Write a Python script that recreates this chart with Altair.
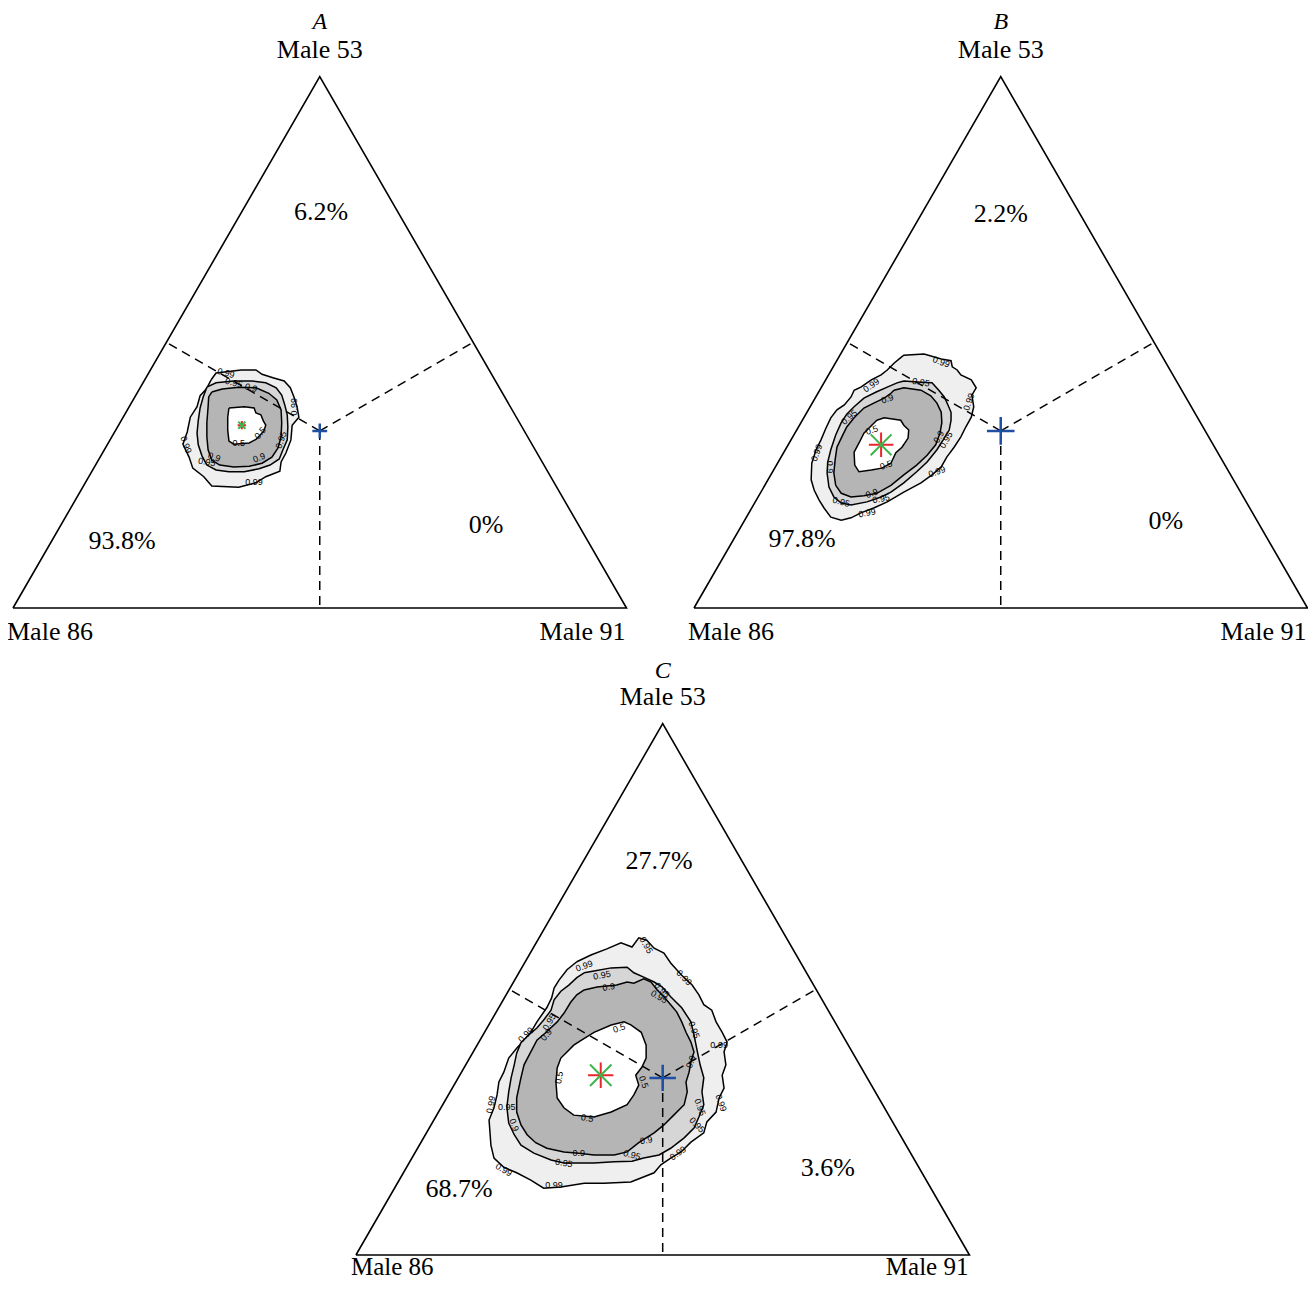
import altair as alt
import pandas as pd

# ------------------------------------------------------------------
# DATA  (triangle coordinates: side = 100, Male 86 at (0,0),
#        Male 91 at (100,0), Male 53 at (50, 86.6))
# ------------------------------------------------------------------
PANELS = ["A", "B", "C"]
VERTEX_NAMES = ["Male 86", "Male 91", "Male 53"]

PCT_A = ["93.8%", "0%", "6.2%"]
PCT_B = ["97.8%", "0%", "2.2%"]
PCT_C = ["68.7%", "3.6%", "27.7%"]

STAR_A = (37.3, 29.8)
STAR_B = (30.5, 26.6)
STAR_C = (39.9, 29.3)

LEVELS = [0.99, 0.95, 0.9, 0.5]

A_99 = [(32.3, 37.2), (33.1, 38.3), (37.2, 38.8), (39.6, 38.8), (40.6, 38.1), (42.5, 37.5),
        (44.2, 37.0), (45.2, 35.9), (45.8, 34.4), (46.3, 32.8), (46.6, 31.1), (45.5, 29.8),
        (45.3, 27.4), (44.5, 25.3), (43.7, 23.8), (43.5, 22.3), (41.2, 21.4), (39.6, 20.4),
        (36.8, 19.7), (32.4, 19.9), (31.1, 21.4), (29.3, 22.8), (28.7, 24.6), (27.7, 26.7),
        (28.4, 28.7), (28.9, 31.1), (30.0, 32.8), (30.5, 34.6), (31.5, 35.7)]
A_95 = [(31.6, 36.0), (33.1, 36.7), (36.0, 37.0), (39.0, 37.0), (41.2, 36.7), (42.9, 35.9),
        (43.8, 34.7), (44.3, 33.1), (44.7, 31.5), (44.8, 29.5), (44.7, 27.4), (44.0, 25.8),
        (43.4, 24.3), (41.9, 23.3), (40.1, 22.7), (37.7, 22.2), (35.2, 22.2), (33.1, 22.5),
        (31.6, 23.3), (30.8, 24.8), (30.2, 26.6), (30.0, 28.5), (30.2, 30.6), (30.5, 32.6),
        (31.0, 34.4)]
A_90 = [(32.4, 35.2), (34.1, 35.7), (36.8, 36.0), (39.6, 35.9), (41.7, 35.0), (43.0, 33.9),
        (43.7, 32.3), (43.8, 30.2), (43.7, 27.9), (43.2, 26.1), (42.2, 24.6), (40.6, 23.6),
        (38.5, 23.1), (36.0, 23.0), (33.7, 23.3), (32.4, 24.1), (31.8, 25.8), (31.6, 27.9),
        (31.6, 30.2), (31.8, 32.8), (31.9, 34.4)]
A_50 = [(35.2, 32.6), (37.7, 32.8), (39.3, 32.6), (39.6, 31.8), (40.4, 31.5), (40.8, 30.5),
        (41.2, 29.8), (40.9, 28.9), (40.3, 28.2), (39.6, 27.5), (38.5, 26.9), (36.0, 26.7),
        (35.2, 27.2), (35.0, 29.0), (35.0, 31.1)]

B_99 = [(33.7, 40.8), (34.2, 41.2), (37.5, 41.4), (40.3, 40.6), (41.9, 40.3), (42.1, 39.3),
        (42.9, 38.8), (43.5, 38.0), (45.2, 37.2), (46.0, 35.9), (45.3, 34.7), (45.6, 32.8),
        (45.2, 31.1), (44.3, 29.5), (43.5, 27.9), (42.4, 26.2), (41.2, 24.6), (40.3, 23.0),
        (38.8, 21.7), (37.0, 20.4), (34.2, 18.9), (31.5, 17.3), (29.3, 16.3), (27.2, 15.5),
        (25.6, 14.7), (24.0, 14.3), (22.3, 14.8), (21.2, 16.3), (20.4, 17.6), (19.6, 19.2),
        (19.1, 20.9), (19.2, 23.6), (19.9, 25.8), (20.7, 27.4), (21.5, 29.3), (22.3, 31.0),
        (23.3, 32.3), (24.5, 33.1), (25.6, 34.4), (26.1, 35.5), (27.2, 36.0), (28.9, 37.2),
        (30.5, 38.0), (31.5, 38.8), (32.6, 39.9)]
B_95 = [(34.2, 37.0), (37.0, 36.8), (38.8, 36.7), (39.9, 35.5), (40.8, 34.4), (41.4, 33.1),
        (41.9, 31.9), (41.9, 30.6), (41.6, 29.0), (40.8, 27.7), (39.6, 25.8), (38.0, 23.8),
        (36.3, 22.2), (34.2, 20.4), (32.1, 18.9), (30.5, 18.1), (28.2, 17.3), (25.6, 16.8),
        (24.0, 17.1), (22.8, 18.1), (22.0, 19.7), (21.7, 22.0), (21.8, 23.8), (22.3, 25.8),
        (23.1, 28.2), (24.0, 30.2), (24.9, 31.6), (26.1, 32.8), (27.7, 34.2), (29.7, 35.2),
        (31.5, 36.0), (33.1, 36.7)]
B_90 = [(32.6, 35.5), (34.2, 35.9), (37.0, 35.5), (38.6, 34.6), (39.6, 33.4), (40.3, 31.9),
        (40.4, 30.2), (40.1, 28.5), (39.4, 26.6), (38.0, 24.9), (36.3, 23.3), (34.2, 21.7),
        (32.1, 20.0), (29.8, 18.7), (27.7, 18.3), (25.6, 18.1), (24.0, 18.7), (23.1, 20.0),
        (22.8, 22.0), (23.0, 24.1), (23.3, 26.2), (24.1, 27.9), (24.9, 29.5), (26.1, 31.0),
        (27.7, 32.6), (29.3, 33.4), (31.0, 34.2), (32.1, 35.0)]
B_50 = [(29.8, 30.6), (31.0, 31.0), (33.7, 30.6), (34.2, 29.8), (35.0, 29.0), (34.9, 27.7),
        (33.9, 26.2), (32.9, 25.3), (32.1, 23.6), (30.6, 22.8), (28.9, 22.5), (26.9, 22.2),
        (26.2, 23.3), (26.1, 25.4), (26.9, 26.9), (27.7, 28.5), (28.9, 29.7)]

C_99 = [(36.0, 47.8), (38.3, 48.9), (40.9, 49.9), (43.2, 50.9), (45.0, 50.2), (46.1, 51.7),
        (47.4, 51.3), (48.6, 50.0), (50.2, 49.2), (51.3, 47.6), (53.1, 45.6), (54.8, 44.0),
        (55.9, 42.4), (56.7, 40.8), (58.0, 39.9), (58.7, 38.0), (59.7, 36.3), (60.5, 34.7),
        (60.0, 33.1), (60.3, 31.0), (59.7, 29.3), (60.0, 27.2), (59.2, 25.6), (58.7, 23.3),
        (57.2, 21.7), (56.7, 19.9), (54.6, 18.4), (53.0, 16.8), (51.3, 15.8), (49.7, 14.7),
        (48.6, 13.4), (44.8, 11.9), (40.4, 11.7), (37.2, 11.7), (33.4, 11.1), (30.6, 10.9),
        (28.5, 12.2), (26.2, 13.4), (24.1, 14.3), (22.5, 15.8), (22.0, 17.9), (21.7, 22.0),
        (22.5, 24.0), (23.0, 26.1), (23.3, 28.2), (24.1, 29.8), (24.9, 32.1), (26.2, 33.7),
        (27.4, 35.0), (28.5, 36.3), (29.5, 38.0), (31.1, 40.3), (31.9, 41.9), (32.3, 43.5),
        (33.1, 44.8), (34.4, 46.5)]
C_95 = [(37.2, 46.0), (38.8, 46.3), (41.6, 46.8), (44.2, 46.9), (45.3, 46.0), (46.9, 45.3),
        (48.6, 44.5), (49.9, 43.7), (51.3, 42.1), (53.1, 40.3), (54.6, 38.0), (55.1, 35.9),
        (55.6, 33.4), (56.1, 31.0), (56.7, 28.9), (56.4, 26.6), (56.7, 24.5), (55.9, 22.5),
        (55.1, 20.7), (53.5, 19.1), (51.3, 17.4), (49.4, 16.3), (46.9, 15.8), (45.0, 15.3),
        (42.1, 15.2), (38.8, 15.0), (33.9, 15.0), (31.8, 15.5), (29.0, 16.6), (26.9, 17.9),
        (25.8, 19.6), (24.9, 21.5), (24.6, 24.1), (24.9, 26.6), (25.3, 28.9), (25.8, 31.0),
        (26.2, 32.9), (26.9, 34.6), (28.2, 35.9), (29.5, 37.0), (30.6, 38.3), (31.8, 39.9),
        (32.3, 41.6), (33.4, 43.0), (34.7, 44.0), (36.0, 45.2)]
C_90 = [(37.2, 43.2), (39.3, 43.7), (42.5, 44.0), (44.2, 44.5), (45.3, 44.3), (46.9, 45.0),
        (48.1, 44.5), (49.1, 43.2), (50.2, 42.1), (51.3, 40.8), (52.3, 39.6), (53.1, 38.0),
        (53.8, 36.3), (54.6, 34.7), (55.1, 33.1), (54.6, 31.5), (54.3, 29.8), (53.8, 28.2),
        (54.0, 26.6), (53.5, 24.5), (51.8, 22.8), (50.2, 21.2), (48.6, 19.9), (46.1, 18.3),
        (44.2, 16.8), (42.1, 16.3), (38.8, 16.3), (36.3, 16.6), (33.9, 16.8), (31.1, 17.4),
        (29.3, 18.3), (27.9, 19.6), (26.9, 21.2), (26.2, 23.3), (26.2, 25.6), (26.9, 28.9),
        (27.4, 31.0), (28.5, 33.1), (29.5, 35.0), (31.0, 36.3), (32.8, 38.0), (33.9, 39.4),
        (35.0, 41.2), (36.0, 42.4)]
C_50 = [(36.7, 35.0), (38.8, 36.3), (41.6, 37.5), (43.7, 38.0), (44.8, 37.5), (46.5, 36.3),
        (47.3, 34.2), (47.3, 32.1), (46.6, 30.6), (45.6, 29.3), (46.1, 27.7), (45.3, 26.1),
        (44.2, 24.5), (41.6, 23.3), (38.8, 22.5), (35.5, 22.8), (33.9, 24.0), (32.8, 25.6),
        (32.6, 28.2), (32.8, 30.5), (33.4, 32.1), (34.4, 33.1), (35.5, 34.2)]

# contour labels: (text, x, y, angle)
LAB_A = [("0.99", 34.7, 38.3, 15), ("0.95", 36.0, 36.7, 15), ("0.9", 38.8, 35.9, 15),
         ("0.99", 45.8, 32.8, 270), ("0.5", 40.3, 28.5, -50), ("0.5", 36.8, 26.9, 0),
         ("0.95", 43.7, 27.4, -70), ("0.9", 40.1, 24.5, -20), ("0.9", 32.8, 24.6, 20),
         ("0.95", 31.6, 23.8, 10), ("0.99", 39.3, 20.5, 0), ("0.99", 28.2, 26.6, 70)]
LAB_B = [("0.99", 40.3, 40.1, 20), ("0.99", 44.8, 33.6, -70), ("0.99", 28.9, 36.3, -35),
         ("0.95", 37.0, 36.8, 10), ("0.9", 31.5, 34.1, -20), ("0.95", 25.3, 31.1, -40),
         ("0.5", 29.0, 29.0, -20), ("0.5", 31.3, 23.3, -20), ("0.9", 39.9, 27.9, -60),
         ("0.95", 41.1, 27.4, -60), ("0.99", 39.6, 22.2, -20), ("0.9", 29.0, 18.7, -20),
         ("0.95", 30.5, 17.8, -10), ("0.95", 24.0, 17.3, 15), ("0.99", 28.2, 15.5, -10),
         ("0.99", 20.0, 25.3, -70), ("0.9", 22.2, 23.0, 90)]
LAB_C = [("0.99", 37.2, 47.1, -20), ("0.95", 40.1, 45.6, -10), ("0.9", 41.2, 43.7, -10),
         ("0.95", 31.5, 38.0, -60), ("0.9", 31.0, 35.9, -50), ("0.99", 27.7, 35.9, -45),
         ("0.5", 42.9, 37.0, -20), ("0.5", 33.1, 28.9, -80), ("0.5", 37.7, 22.3, 10),
         ("0.5", 46.9, 28.2, 70), ("0.99", 22.0, 24.5, -80), ("0.95", 24.6, 24.1, 0),
         ("0.9", 25.8, 21.2, 70), ("0.99", 24.1, 13.9, 30), ("0.99", 32.3, 11.4, 0),
         ("0.95", 33.9, 15.0, 10), ("0.9", 36.3, 16.6, 0), ("0.95", 45.0, 16.3, 15),
         ("0.9", 47.3, 18.7, -10), ("0.99", 52.5, 16.6, -35), ("0.99", 59.5, 24.8, 70),
         ("0.95", 56.1, 24.1, 70), ("0.95", 55.6, 21.2, 45), ("0.9", 54.6, 31.5, -70),
         ("0.95", 55.1, 36.7, 70), ("0.99", 59.2, 34.2, 0), ("0.95", 49.9, 43.2, 45),
         ("0.95", 49.4, 42.1, 30), ("0.99", 53.5, 45.2, 45), ("0.95", 47.3, 50.5, 60)]

# ------------------------------------------------------------------
# LAYOUT / STYLE
# ------------------------------------------------------------------
W, H = 1300, 1274
PX = 6.135                      # pixels per triangle unit
X0, Y1 = -0.815, 97.80          # data value at left / top edge of the plot area
XDOM = [X0, X0 + W / PX]
YDOM = [Y1 - H / PX, Y1]
ORIGIN = {"A": (0.0, 0.0), "B": (111.0, 0.0), "C": (55.9, -105.46)}
ROWS = {"top": ["A", "B"], "bottom": ["C"]}
# text offsets (px) per row: base-label baseline, apex-label baseline, title baseline, left dx
ROW_TEXT = {"top": dict(base=32, apex=-19, title=-48, left=-6, size=26),
            "bottom": dict(base=20, apex=-19, title=-46, left=-5, size=25)}
TRI = [(0, 0), (100, 0), (50, 86.6), (0, 0)]
CENTROID = (50, 28.87)
EDGE_MID = [(25, 43.3), (75, 43.3), (50, 0)]
PCT_POS = {"A": [(17.8, 10.9), (77.1, 13.5), (50.2, 64.5)],
           "B": [(17.6, 11.2), (76.9, 14.2), (50.0, 64.2)],
           "C": [(16.8, 10.8), (76.9, 14.2), (49.4, 64.2)]}
FILLS = {0.99: "#efefef", 0.95: "#d6d6d6", 0.9: "#b5b5b5", 0.5: "#ffffff"}
STAR_SIZE = {"A": 70, "B": 600, "C": 640}
CROSS_SIZE = {"A": 220, "B": 760, "C": 700}
SERIF = "Liberation Serif"

CONTOURS = {"A": [A_99, A_95, A_90, A_50], "B": [B_99, B_95, B_90, B_50], "C": [C_99, C_95, C_90, C_50]}
LABELS = {"A": LAB_A, "B": LAB_B, "C": LAB_C}
PCTS = {"A": PCT_A, "B": PCT_B, "C": PCT_C}
STARS = {"A": STAR_A, "B": STAR_B, "C": STAR_C}


def g(p, x, y):
    ox, oy = ORIGIN[p]
    return ox + x, oy + y


XS = alt.Scale(domain=XDOM, nice=False, zero=False)
YS = alt.Scale(domain=YDOM, nice=False, zero=False)


def ex(f="gx"):
    return alt.X(f"{f}:Q", scale=XS, axis=None)


def ey(f="gy"):
    return alt.Y(f"{f}:Q", scale=YS, axis=None)


tri_rows = []
for p in PANELS:
    for i, (x, y) in enumerate(TRI):
        gx, gy = g(p, x, y)
        tri_rows.append({"panel": p, "i": i, "gx": gx, "gy": gy})
tri_df = pd.DataFrame(tri_rows)

cont_rows = []
for p in PANELS:
    for lev, poly in zip(LEVELS, CONTOURS[p]):
        pts = list(poly) + [poly[0]]
        for i, (x, y) in enumerate(pts):
            gx, gy = g(p, x, y)
            cont_rows.append({"panel": p, "level": lev, "i": i, "gx": gx, "gy": gy})
cont_df = pd.DataFrame(cont_rows)

dash_rows = []
for p in PANELS:
    cx, cy = g(p, *CENTROID)
    for (mx, my) in EDGE_MID:
        ex2, ey2 = g(p, mx, my)
        dash_rows.append({"panel": p, "gx": cx, "gy": cy, "gx2": ex2, "gy2": ey2})
dash_df = pd.DataFrame(dash_rows)

lab_rows = []
for p in PANELS:
    for t, x, y, a in LABELS[p]:
        gx, gy = g(p, x, y)
        lab_rows.append({"panel": p, "t": t, "gx": gx, "gy": gy, "ang": a % 360})
lab_df = pd.DataFrame(lab_rows)

pct_rows = []
for p in PANELS:
    for t, (x, y) in zip(PCTS[p], PCT_POS[p]):
        gx, gy = g(p, x, y)
        pct_rows.append({"panel": p, "t": t, "gx": gx, "gy": gy})
pct_df = pd.DataFrame(pct_rows)

layers = []

for lev in LEVELS:
    layers.append(
        alt.Chart(cont_df[cont_df.level == lev]).mark_line(
            fill=FILLS[lev], stroke="black", strokeWidth=1.5, strokeJoin="miter"
        ).encode(x=ex(), y=ey(), detail="panel:N", order="i:Q")
    )

layers.append(
    alt.Chart(tri_df).mark_line(stroke="black", strokeWidth=1.6, strokeJoin="miter")
    .encode(x=ex(), y=ey(), detail="panel:N", order="i:Q")
)

layers.append(
    alt.Chart(dash_df).mark_rule(stroke="black", strokeWidth=1.5, strokeDash=[9, 6])
    .encode(x=ex(), y=ey(), x2="gx2:Q", y2="gy2:Q")
)

layers.append(
    alt.Chart(lab_df).mark_text(font="Liberation Sans", fontSize=9, color="black",
                                align="center", baseline="middle")
    .encode(x=ex(), y=ey(), text="t:N", angle=alt.Angle("ang:Q", scale=None))
)

layers.append(
    alt.Chart(pct_df).mark_text(font=SERIF, fontSize=26, color="black",
                                align="center", baseline="middle")
    .encode(x=ex(), y=ey(), text="t:N")
)

for row, plist in ROWS.items():
    o = ROW_TEXT[row]
    left = pd.DataFrame([{"t": VERTEX_NAMES[0], "gx": g(p, *TRI[0])[0], "gy": g(p, *TRI[0])[1]} for p in plist])
    right = pd.DataFrame([{"t": VERTEX_NAMES[1], "gx": g(p, *TRI[1])[0], "gy": g(p, *TRI[1])[1]} for p in plist])
    top = pd.DataFrame([{"t": VERTEX_NAMES[2], "gx": g(p, *TRI[2])[0], "gy": g(p, *TRI[2])[1]} for p in plist])
    ttl = pd.DataFrame([{"t": p, "gx": g(p, *TRI[2])[0], "gy": g(p, *TRI[2])[1]} for p in plist])
    layers.append(
        alt.Chart(left).mark_text(font=SERIF, fontSize=o["size"], align="left", baseline="alphabetic",
                                  dx=o["left"], dy=o["base"], color="black")
        .encode(x=ex(), y=ey(), text="t:N"))
    layers.append(
        alt.Chart(right).mark_text(font=SERIF, fontSize=o["size"], align="right", baseline="alphabetic",
                                   dx=-1, dy=o["base"], color="black")
        .encode(x=ex(), y=ey(), text="t:N"))
    layers.append(
        alt.Chart(top).mark_text(font=SERIF, fontSize=26, align="center", baseline="alphabetic",
                                 dy=o["apex"], color="black")
        .encode(x=ex(), y=ey(), text="t:N"))
    layers.append(
        alt.Chart(ttl).mark_text(font=SERIF, fontSize=24, fontStyle="italic", align="center",
                                 baseline="alphabetic", dy=o["title"], color="black")
        .encode(x=ex(), y=ey(), text="t:N"))

PLUS = "M -1 0 L 1 0 M 0 -1 L 0 1"
CROSS = "M -0.85 -0.85 L 0.85 0.85 M -0.85 0.85 L 0.85 -0.85"

for p in PANELS:
    sx, sy = g(p, *STARS[p])
    cx, cy = g(p, *CENTROID)
    sdf = pd.DataFrame([{"gx": sx, "gy": sy}])
    cdf = pd.DataFrame([{"gx": cx, "gy": cy}])
    layers.append(
        alt.Chart(cdf).mark_point(shape=PLUS, filled=False, stroke="#1f4fa3", strokeWidth=2.5,
                                  size=CROSS_SIZE[p], opacity=1)
        .encode(x=ex(), y=ey())
    )
    layers.append(
        alt.Chart(sdf).mark_point(shape=PLUS, filled=False, stroke="#e8262b", strokeWidth=2,
                                  size=STAR_SIZE[p], opacity=1)
        .encode(x=ex(), y=ey())
    )
    layers.append(
        alt.Chart(sdf).mark_point(shape=CROSS, filled=False, stroke="#3db54a", strokeWidth=2,
                                  size=STAR_SIZE[p], opacity=1)
        .encode(x=ex(), y=ey())
    )

chart = alt.layer(*layers).properties(
    width=W, height=H, padding=0, autosize=alt.AutoSizeParams(type="none")
).configure_view(stroke=None)

chart.save("out.html", embed_options={"renderer": "svg", "actions": False})
